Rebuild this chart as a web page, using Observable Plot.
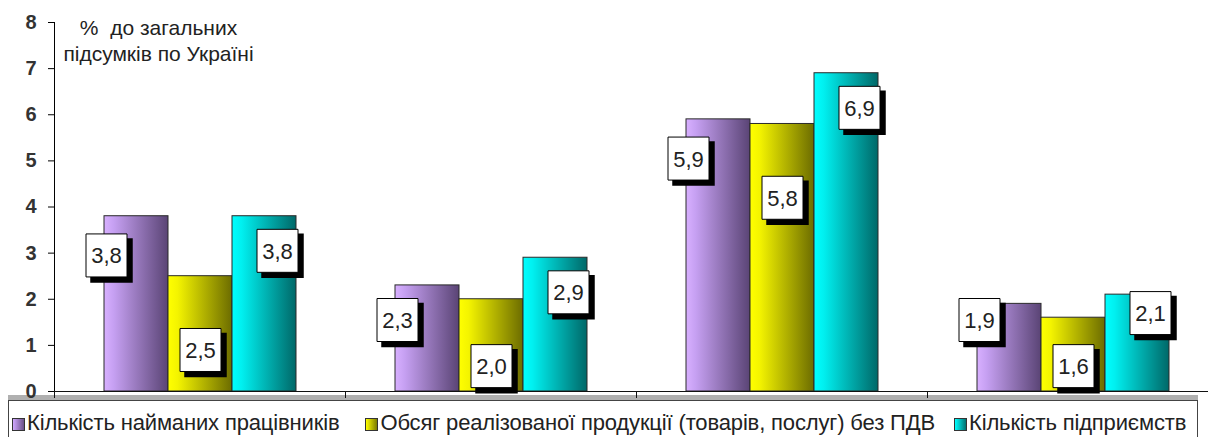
<!DOCTYPE html>
<html>
<head>
<meta charset="utf-8">
<script src="https://cdn.jsdelivr.net/npm/d3@7"></script>
<script src="https://cdn.jsdelivr.net/npm/@observablehq/plot@0.6"></script>
<style>
  body { margin: 0; background: #fff; font-family: "Liberation Sans", Arial, sans-serif; }
  #wrap { position: relative; width: 1208px; height: 437px; overflow: hidden; background: #fff; }
  #wrap svg { position: absolute; left: 0; top: 0; z-index: 2; }
  svg [aria-label="y-axis tick label"] { font-weight: bold; fill: #333; }
  .legend { position: absolute; left: 8px; top: 400px; width: 1190px; height: 50px;
            border: 1px solid #444; box-shadow: 0 -5px 0 #b0b0b0; background: #fff; z-index: 1;
            display: flex; align-items: flex-start; padding: 9px 0 0 3px; box-sizing: border-box;
            font-size: 22px; color: #222; white-space: nowrap; letter-spacing: -0.15px; }
  .item { display: flex; align-items: center; margin-right: 19px; }
  .item:first-child { margin-right: 26px; }
  .sw { width: 11px; height: 11px; border: 1px solid #333; margin-right: 2px; margin-top: 3px; }
</style>
</head>
<body>
<div id="wrap"></div>
<script>
// ---- data ----
const groups = ["Група 1", "Група 2", "Група 3", "Група 4"];
const series = [
  "Кількість найманих працівників",
  "Обсяг реалізованої продукції (товарів, послуг) без ПДВ",
  "Кількість підприємств"
];
const workers     = [3.8, 2.3, 5.9, 1.9];
const sales       = [2.5, 2.0, 5.8, 1.6];
const enterprises = [3.8, 2.9, 6.9, 2.1];
const yTicks = [0, 1, 2, 3, 4, 5, 6, 7, 8];
const yTitle = "%  до загальних\nпідсумків по Україні";

// ---- styles ----
const gradients = [
  [["0", "#d8b0ff"], ["0.15", "#c6a0f2"], ["1", "#5a4475"]],
  [["0", "#ffff00"], ["0.15", "#f4f400"], ["1", "#6c6c00"]],
  [["0", "#00ffff"], ["0.15", "#00f0f0"], ["1", "#006868"]]
];
const swatchCss = [
  "linear-gradient(90deg,#d0a8ff,#6a5088)",
  "linear-gradient(90deg,#ffff00,#7a7a00)",
  "linear-gradient(90deg,#00ffff,#007070)"
];
// label placement per series (pixel dx, offset below top in value units, min height)
const labelRule = [
  { dx: -30, off: 0.85, min: 1.55 },
  { dx: 0,   off: 1.6,  min: 0.55 },
  { dx: 13,  off: 0.75, min: 1.7 }
];

const valuesBySeries = [workers, sales, enterprises];
const rows = groups.flatMap((g, i) =>
  series.map((s, k) => ({ group: g, series: s, k, value: valuesBySeries[k][i] })));
const fmt = v => v.toFixed(1).replace(".", ",");
const boxSym = { draw(ctx) { ctx.rect(-20.5, -21.5, 41, 43); } };

const barMarks = series.map((s, k) =>
  Plot.barY(rows.filter(d => d.k === k), {
    fx: "group", x: "series", y: "value",
    fill: `url(#grad${k})`, stroke: "#2a2a2a", strokeWidth: 1
  }));

const labelMarks = series.flatMap((s, k) => {
  const r = labelRule[k];
  const data = rows.filter(d => d.k === k);
  const ly = d => Math.max(d.value - r.off, r.min);
  return [
    Plot.dot(data, { fx: "group", x: "series", y: ly, symbol: boxSym, r: 5,
      fill: "#000", stroke: "#000", dx: r.dx + 5, dy: 5 }),
    Plot.dot(data, { fx: "group", x: "series", y: ly, symbol: boxSym, r: 5,
      fill: "#fff", stroke: "#000", strokeWidth: 1, dx: r.dx }),
    Plot.text(data, { fx: "group", x: "series", y: ly, text: d => fmt(d.value),
      dx: r.dx, dy: 1, fontSize: 22, fill: "#222" })
  ];
});

const svg = Plot.plot({
  width: 1208, height: 400,
  marginLeft: 53, marginRight: -11, marginTop: 22, marginBottom: 9,
  style: { fontFamily: "Liberation Sans, Arial, sans-serif", fontSize: "20px", background: "transparent", overflow: "visible" },
  fx: { domain: groups, padding: 0, axis: null },
  x: { domain: series, paddingInner: 0, paddingOuter: 0.742, axis: null },
  y: { domain: [0, 8], ticks: yTicks, tickSize: 6, tickPadding: 12, line: true, label: null },
  marks: [
    ...barMarks,
    Plot.ruleY([0], { stroke: "#111" }),
    Plot.frame({ anchor: "left", insetTop: 369, insetBottom: -6, stroke: "#111" }),
    ...labelMarks,
    Plot.text([{ group: groups[0], t: yTitle }], {
      fx: "group", text: "t", frameAnchor: "top-left", textAnchor: "middle",
      lineAnchor: "top", dx: 104, dy: -6, fontSize: 21, lineHeight: 1.25, fill: "#222"
    })
  ]
});

const defs = d3.select(svg).insert("defs", ":first-child");
gradients.forEach((stops, k) => {
  const g = defs.append("linearGradient").attr("id", `grad${k}`)
    .attr("x1", "0").attr("x2", "1").attr("y1", "0").attr("y2", "0");
  stops.forEach(([o, c]) => g.append("stop").attr("offset", o).attr("stop-color", c));
});

const wrap = document.getElementById("wrap");
wrap.appendChild(svg);

const legend = document.createElement("div");
legend.className = "legend";
series.forEach((s, k) => {
  const it = document.createElement("div");
  it.className = "item";
  const sw = document.createElement("span");
  sw.className = "sw";
  sw.style.background = swatchCss[k];
  const tx = document.createElement("span");
  tx.textContent = s;
  it.appendChild(sw);
  it.appendChild(tx);
  legend.appendChild(it);
});
wrap.appendChild(legend);
</script>
</body>
</html>
